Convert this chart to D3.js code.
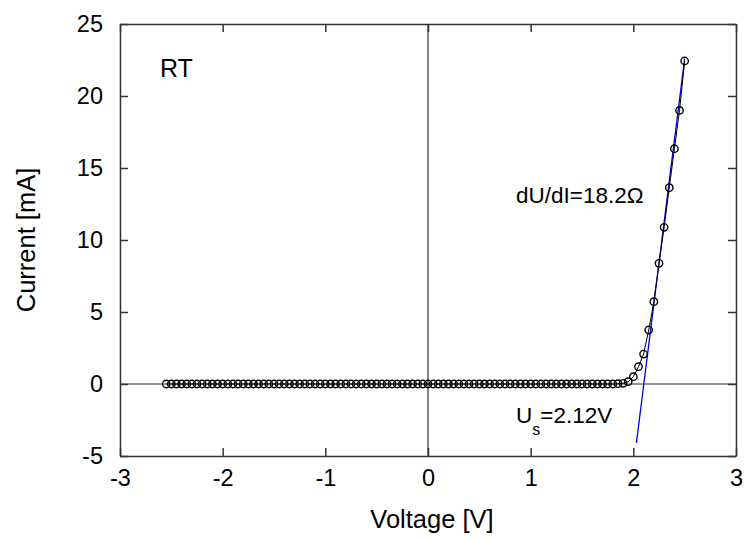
<!DOCTYPE html>
<html>
<head>
<meta charset="utf-8">
<script src="https://cdn.jsdelivr.net/npm/d3@7"></script>
<style>
  body { margin: 0; background: #fff; }
  text { font-family: "Liberation Sans", Arial, sans-serif; fill: #000; }
</style>
</head>
<body>
<div id="chart"></div>
<script>
// I-V curve of the diode at room temperature

// measured sweep voltages [V]
const voltages = [
  -2.55, -2.50, -2.45, -2.40, -2.35, -2.30, -2.25, -2.20, -2.15, -2.10,
  -2.05, -2.00, -1.95, -1.90, -1.85, -1.80, -1.75, -1.70, -1.65, -1.60,
  -1.55, -1.50, -1.45, -1.40, -1.35, -1.30, -1.25, -1.20, -1.15, -1.10,
  -1.05, -1.00, -0.95, -0.90, -0.85, -0.80, -0.75, -0.70, -0.65, -0.60,
  -0.55, -0.50, -0.45, -0.40, -0.35, -0.30, -0.25, -0.20, -0.15, -0.10,
  -0.05, 0.00, 0.05, 0.10, 0.15, 0.20, 0.25, 0.30, 0.35, 0.40,
  0.45, 0.50, 0.55, 0.60, 0.65, 0.70, 0.75, 0.80, 0.85, 0.90,
  0.95, 1.00, 1.05, 1.10, 1.15, 1.20, 1.25, 1.30, 1.35, 1.40,
  1.45, 1.50, 1.55, 1.60, 1.65, 1.70, 1.75, 1.80, 1.85, 1.90,
  1.95, 2.00, 2.05, 2.10, 2.15, 2.20, 2.25, 2.30, 2.35, 2.40,
  2.45, 2.50
];

// measured currents [mA]
const currents = [
  0, 0, 0, 0, 0, 0, 0, 0, 0, 0,
  0, 0, 0, 0, 0, 0, 0, 0, 0, 0,
  0, 0, 0, 0, 0, 0, 0, 0, 0, 0,
  0, 0, 0, 0, 0, 0, 0, 0, 0, 0,
  0, 0, 0, 0, 0, 0, 0, 0, 0, 0,
  0, 0, 0, 0, 0, 0, 0, 0, 0, 0,
  0, 0, 0, 0, 0, 0, 0, 0, 0, 0,
  0, 0, 0, 0, 0, 0, 0, 0, 0, 0,
  0, 0, 0, 0, 0, 0, 0, 0, 0.02, 0.05,
  0.16, 0.51, 1.20, 2.08, 3.75, 5.72, 8.38, 10.88, 13.63, 16.34,
  19.00, 22.43
];

// linear fit of the steep part
const fitVoltage = [2.03, 2.50];
const fitCurrent = [-4.1, 22.6];

const xTicks = [-3, -2, -1, 0, 1, 2, 3];
const yTicks = [-5, 0, 5, 10, 15, 20, 25];

const width = 746, height = 539;
const margin = { left: 120, right: 10, top: 24, bottom: 83 };

const svg = d3.select("#chart").append("svg")
  .attr("width", width)
  .attr("height", height);

svg.append("rect").attr("width", width).attr("height", height).attr("fill", "#fff");

const x = d3.scaleLinear().domain([-3, 3]).range([margin.left, width - margin.right]);
const y = d3.scaleLinear().domain([-5, 25]).range([height - margin.bottom, margin.top]);

const axisColor = "#333";
const fmt = d => String(d); // plain hyphen minus like the original

// zero lines
svg.append("line")
  .attr("x1", x(-3)).attr("x2", x(3))
  .attr("y1", y(0)).attr("y2", y(0))
  .attr("stroke", axisColor).attr("stroke-width", 1.2);
svg.append("line")
  .attr("x1", x(0)).attr("x2", x(0))
  .attr("y1", y(-5)).attr("y2", y(25))
  .attr("stroke", axisColor).attr("stroke-width", 1.2);

// axes with inward ticks
const tickLen = 8;
function styleAxis(g) {
  g.select(".domain").attr("stroke", axisColor).attr("stroke-width", 1.5);
  g.selectAll(".tick line").attr("stroke", axisColor).attr("stroke-width", 1.5);
  g.selectAll("text").attr("font-size", 23.5).attr("fill", "#000")
    .attr("font-family", '"Liberation Sans", Arial, sans-serif');
}

svg.append("g")
  .attr("transform", `translate(0,${y(-5)})`)
  .call(d3.axisBottom(x).tickValues(xTicks).tickFormat(fmt)
    .tickSizeInner(-tickLen).tickSizeOuter(0).tickPadding(13))
  .call(styleAxis);

svg.append("g")
  .attr("transform", `translate(0,${y(25)})`)
  .call(d3.axisTop(x).tickValues(xTicks).tickFormat("")
    .tickSizeInner(-tickLen).tickSizeOuter(0))
  .call(styleAxis);

svg.append("g")
  .attr("transform", `translate(${x(-3)},0)`)
  .call(d3.axisLeft(y).tickValues(yTicks).tickFormat(fmt)
    .tickSizeInner(-tickLen).tickSizeOuter(0).tickPadding(17))
  .call(styleAxis);

svg.append("g")
  .attr("transform", `translate(${x(3)},0)`)
  .call(d3.axisRight(y).tickValues(yTicks).tickFormat("")
    .tickSizeInner(-tickLen).tickSizeOuter(0))
  .call(styleAxis);

// fit line
svg.append("line")
  .attr("x1", x(fitVoltage[0])).attr("y1", y(fitCurrent[0]))
  .attr("x2", x(fitVoltage[1])).attr("y2", y(fitCurrent[1]))
  .attr("stroke", "#0000dd").attr("stroke-width", 1.3);

// data
const points = voltages.map((v, i) => ({ v: v, i: currents[i] }));

svg.append("path")
  .datum(points)
  .attr("fill", "none")
  .attr("stroke", "#000")
  .attr("stroke-width", 1)
  .attr("d", d3.line().x(d => x(d.v)).y(d => y(d.i)));

svg.append("g").selectAll("circle")
  .data(points)
  .join("circle")
  .attr("cx", d => x(d.v))
  .attr("cy", d => y(d.i))
  .attr("r", 3.7)
  .attr("fill", "none")
  .attr("stroke", "#000")
  .attr("stroke-width", 1.4);

// labels
svg.append("text")
  .attr("x", 432).attr("y", 528)
  .attr("text-anchor", "middle")
  .attr("font-size", 25.5)
  .text("Voltage [V]");

svg.append("text")
  .attr("transform", "translate(35,240) rotate(-90)")
  .attr("text-anchor", "middle")
  .attr("font-size", 25.5)
  .text("Current [mA]");

svg.append("text")
  .attr("x", 160).attr("y", 77)
  .attr("font-size", 25)
  .text("RT");

svg.append("text")
  .attr("x", 516).attr("y", 203)
  .attr("font-size", 22.5)
  .text("dU/dI=18.2\u03A9");

const us = svg.append("text")
  .attr("x", 516).attr("y", 423)
  .attr("font-size", 22.5);
us.append("tspan").text("U");
us.append("tspan").attr("dy", 12).attr("font-size", 16).text("s");
us.append("tspan").attr("dy", -12).text("=2.12V");
</script>
</body>
</html>
